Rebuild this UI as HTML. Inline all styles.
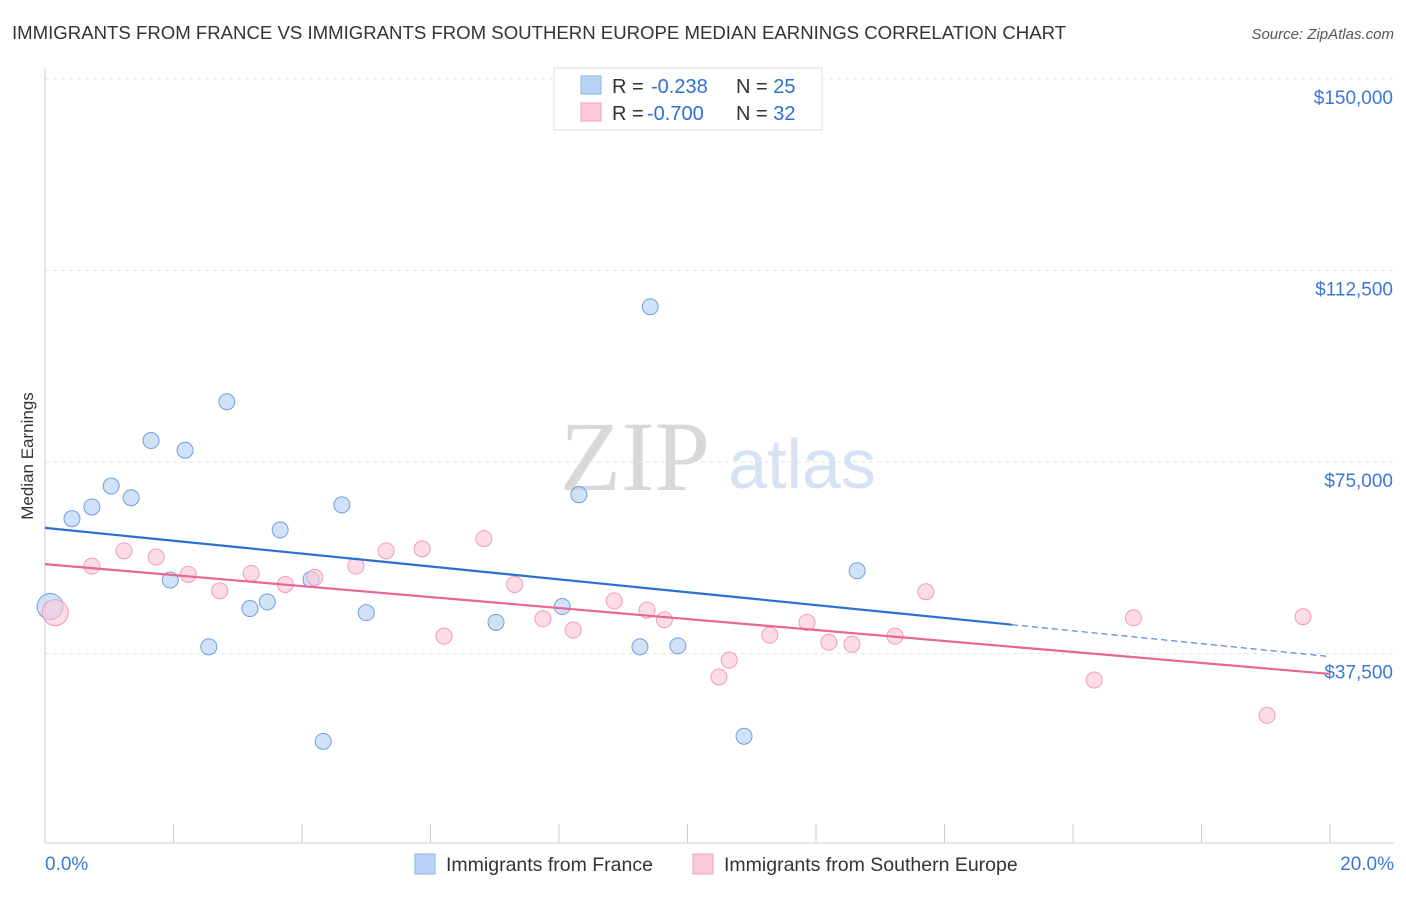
<!DOCTYPE html>
<html><head><meta charset="utf-8">
<style>
body{margin:0;background:#fff;font-family:"Liberation Sans",sans-serif;}
svg text{font-family:"Liberation Sans",sans-serif;}
svg text.serif{font-family:"Liberation Serif",serif;}
</style></head><body>
<svg id="c" width="1406" height="892">
<text x="12" y="39" font-size="18.6" fill="#333">IMMIGRANTS FROM FRANCE VS IMMIGRANTS FROM SOUTHERN EUROPE MEDIAN EARNINGS CORRELATION CHART</text>
<text x="1394" y="39" font-size="15" fill="#555" text-anchor="end" font-style="italic">Source: ZipAtlas.com</text>
<text x="33" y="456" font-size="17" fill="#333" text-anchor="middle" transform="rotate(-90 33 456)">Median Earnings</text>
<g><text class="serif" x="635" y="490" font-size="100" fill="#d8d8d8" text-anchor="middle">ZIP</text><text x="802" y="488" font-size="70" fill="#d4e2f4" text-anchor="middle">atlas</text></g>
<g id="grid"></g><g id="marks"></g>
<g>
<rect x="554" y="68" width="268" height="62" fill="#fff" stroke="#ddd"/>
<rect x="581" y="76" width="20" height="18" fill="#b8d3f5" stroke="#8ab3e8"/>
<rect x="581" y="103" width="20" height="18" fill="#fccadb" stroke="#f2a0bd"/>
<text x="612" y="93" font-size="20" fill="#333">R = <tspan x="651" fill="#2f6fd1">-0.238</tspan><tspan x="736">N = </tspan><tspan fill="#2f6fd1">25</tspan></text>
<text x="612" y="120" font-size="20" fill="#333">R = <tspan x="647" fill="#2f6fd1">-0.700</tspan><tspan x="736">N = </tspan><tspan fill="#2f6fd1">32</tspan></text>
</g>
<g>
<rect x="415" y="854" width="20" height="20" fill="#b8d3f5" stroke="#8ab3e8"/>
<text x="446" y="871" font-size="19.5" fill="#333">Immigrants from France</text>
<rect x="693" y="854" width="20" height="20" fill="#fccadb" stroke="#f2a0bd"/>
<text x="724" y="871" font-size="19.5" fill="#333">Immigrants from Southern Europe</text>
</g>
</svg>
<script>
const yTicks=[150000,112500,75000,37500];
const yTickLabels=["$150,000","$112,500","$75,000","$37,500"];
const xTickLabels=["0.0%","20.0%"];
const franceX=[0.08,0.42,0.73,1.03,1.34,1.65,1.95,2.18,2.55,2.83,3.19,3.46,3.66,4.14,4.33,4.62,5.00,7.02,8.05,8.31,9.26,9.42,9.85,10.88,12.64];
const franceY=[46700,63900,66200,70300,68000,79200,51900,77300,38800,86800,46300,47600,61700,52000,20300,66600,45500,43600,46700,68600,38800,105400,39000,21300,53700];
const seX=[0.16,0.73,1.23,1.73,2.23,2.72,3.21,3.74,4.20,4.84,5.31,5.87,6.21,6.83,7.31,7.75,8.22,8.86,9.37,9.64,10.49,10.65,11.28,11.86,12.20,12.56,13.23,13.71,16.33,16.94,19.02,19.58];
const seY=[45500,54600,57600,56400,53000,49800,53200,51000,52400,54600,57600,58000,40900,60000,51000,44300,42100,47800,46000,44100,32900,36200,41100,43600,39700,39300,40900,49600,32300,44500,25400,44700];
const trendFrance=[62100,36900];
const trendSE=[55000,33500];
const X=p=>45+p/20*1285, Y=v=>79+(150000-v)/37500*191.5;
const NS="http://www.w3.org/2000/svg";
function mk(t,a,parent){const e=document.createElementNS(NS,t);for(const k in a)e.setAttribute(k,a[k]);parent.appendChild(e);return e;}
const g=document.getElementById('grid'),m=document.getElementById('marks');
yTicks.forEach((v,i)=>{
 const l=mk('line',{x1:45,x2:1394,y1:Y(v),y2:Y(v),stroke:'#e3e3e3','stroke-dasharray':'4,4'},g);
 
 
 const t=mk('text',{x:1393,y:Y(v)+25,'font-size':19,fill:'#3a78d6','text-anchor':'end'},g);t.textContent=yTickLabels[i];
 
 
});
const ax=mk('line',{x1:45,x2:1394,y1:843,y2:843,stroke:'#ccc'},g);


const ay=mk('line',{x1:45,x2:45,y1:68,y2:843,stroke:'#ccc'},g);


for(let i=0;i<=10;i++){const t=mk('line',{x1:X(i*2),x2:X(i*2),y1:824,y2:843,stroke:'#ccc'},g);
 
 }
[[0,'start',45],[20,'end',1394]].forEach((d,i)=>{const t=mk('text',{x:d[2],y:870,'font-size':19,fill:'#3a78d6','text-anchor':d[1]},g);t.textContent=xTickLabels[i];
 
 });
function dots(xs,ys,fill,stroke,name){xs.forEach((x,i)=>{const r=i===0?13:8;
 const c=mk('circle',{cx:X(x),cy:Y(ys[i]),r:r,fill:fill,'fill-opacity':0.65,stroke:stroke,'stroke-width':1},m);
 
 });}
dots(franceX,franceY,'#b8d3f5','#6e9fde','point-france');
dots(seX,seY,'#fccadb','#ee9cba','point-southern-europe');
const fy=p=>trendFrance[0]+(trendFrance[1]-trendFrance[0])*p/20;
const l1=mk('line',{x1:X(0),y1:Y(fy(0)),x2:X(15.05),y2:Y(fy(15.05)),stroke:'#2a6fd6','stroke-width':2.2},m);


const l2=mk('line',{x1:X(15.05),y1:Y(fy(15.05)),x2:X(20),y2:Y(fy(20)),stroke:'#2a6fd6','stroke-width':1,'stroke-dasharray':'6,4'},m);


const l3=mk('line',{x1:X(0),y1:Y(trendSE[0]),x2:X(20),y2:Y(trendSE[1]),stroke:'#e9668f','stroke-width':2.2},m);


</script>
</body></html>
